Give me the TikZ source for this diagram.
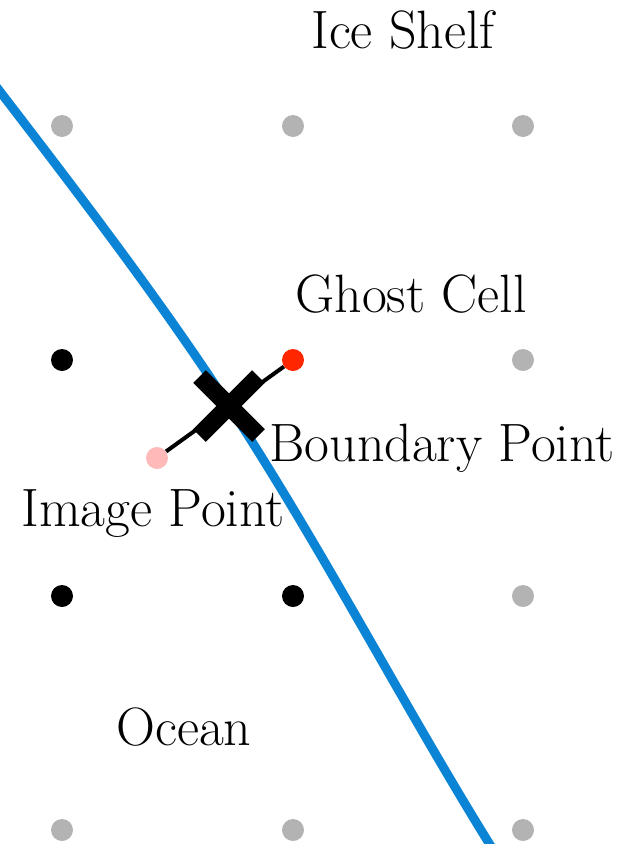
\documentclass[tikz,border=0pt]{standalone}
\usetikzlibrary{shapes.misc}
\definecolor{shelfblue}{RGB}{11,132,214}
\definecolor{cellgray}{RGB}{179,179,179}
\definecolor{ghostred}{RGB}{255,38,0}
\definecolor{imagepink}{RGB}{255,185,185}
\tikzset{
  dot/.style={circle, fill=#1, inner sep=0pt, minimum size=22pt},
  lbl/.style={anchor=base, font=\fontsize{54}{64}\selectfont}
}
\begin{document}
\begin{tikzpicture}[x=1pt, y=-1pt]
\useasboundingbox (0,0) rectangle (624,844);
% grid of cell centres
\node[dot=cellgray] (a1) at (62,126) {};
\node[dot=cellgray] (a2) at (293,126) {};
\node[dot=cellgray] (a3) at (523,126) {};
\node[dot=black] (b1) at (62,360) {};
\node[dot=cellgray] (b3) at (523,360) {};
\node[dot=black] (c1) at (62,596) {};
\node[dot=black] (c2) at (293,596) {};
\node[dot=cellgray] (c3) at (523,596) {};
\node[dot=cellgray] (d1) at (62,830) {};
\node[dot=cellgray] (d2) at (293,830) {};
\node[dot=cellgray] (d3) at (523,830) {};
% ghost cell and its image
\node[dot=ghostred] (ghost) at (293,360) {};
\node[dot=imagepink] (image) at (157,458) {};
\draw[line width=4pt] (image) -- (ghost);
% ice front
\draw[shelfblue, line width=9pt] (-5,85) .. controls (74,188) and (158,297) .. (229,406)
  .. controls (322,548) and (402,703) .. (492,848);
\node[cross out, draw, line width=18pt, minimum size=41pt, inner sep=0pt] (bp) at (229,406) {};
% labels
\node[lbl] (shelf) at (403,48) {Ice Shelf};
\node[lbl] (gc) at (411,312) {Ghost Cell};
\node[lbl] (bpt) at (442,461) {Boundary Point};
\node[lbl] (ipt) at (153,526) {Image Point};
\node[lbl] (ocean) at (184,745) {Ocean};
\end{tikzpicture}
\end{document}
